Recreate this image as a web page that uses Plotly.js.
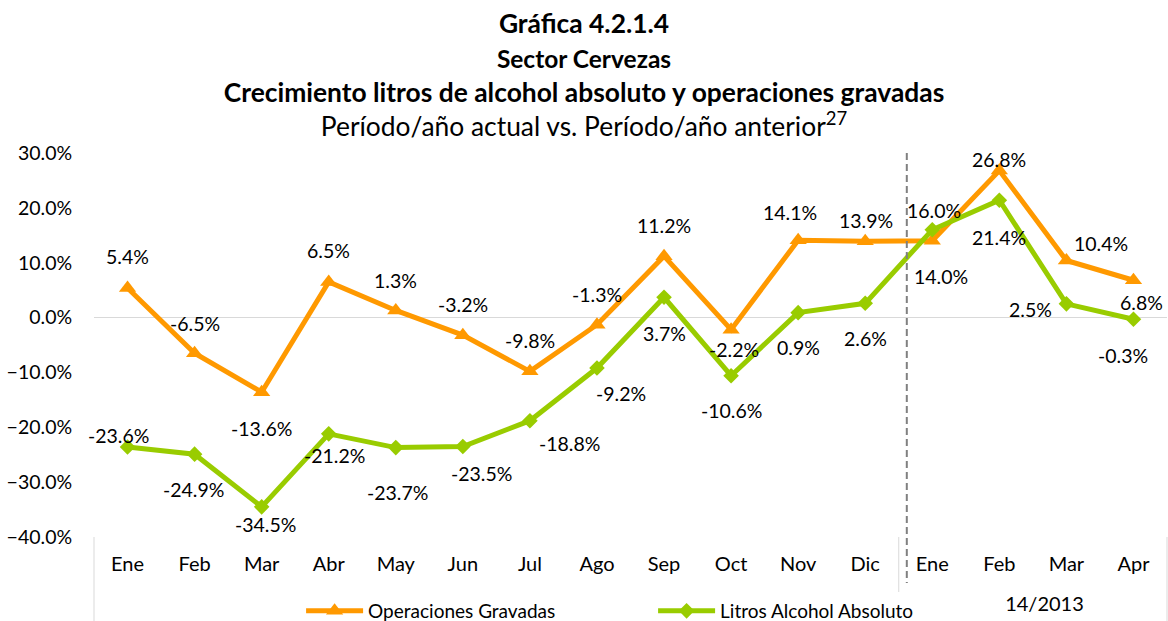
<!DOCTYPE html>
<html>
<head>
<meta charset="utf-8">
<script src="https://cdn.plot.ly/plotly-3.0.1.min.js"></script>
<style>
  html, body { margin: 0; padding: 0; background: #ffffff; }
  #chart { width: 1168px; height: 621px; }
</style>
</head>
<body>
<div id="chart"></div>
<script>
// Periodo comparado (año actual / año anterior) y mes de cada punto
const periods = [
  '2013/2012', '2013/2012', '2013/2012', '2013/2012', '2013/2012', '2013/2012',
  '2013/2012', '2013/2012', '2013/2012', '2013/2012', '2013/2012', '2013/2012',
  '2014/2013', '2014/2013', '2014/2013', '2014/2013'
];
const months = ['Ene', 'Feb', 'Mar', 'Abr', 'May', 'Jun', 'Jul', 'Ago', 'Sep', 'Oct', 'Nov', 'Dic',
                'Ene', 'Feb', 'Mar', 'Apr'];

// Crecimiento (%) vs. mismo periodo del año anterior
const operacionesGravadas = [5.4, -6.5, -13.6, 6.5, 1.3, -3.2, -9.8, -1.3, 11.2, -2.2, 14.1, 13.9, 14.0, 26.8, 10.4, 6.8];
const litrosAlcohol = [-23.6, -24.9, -34.5, -21.2, -23.7, -23.5, -18.8, -9.2, 3.7, -10.6, 0.9, 2.6, 16.0, 21.4, 2.5, -0.3];

const seriesNames = ['Operaciones Gravadas', 'Litros Alcohol Absoluto'];

// Desplazamiento de cada etiqueta respecto a su punto, en píxeles [dx, dy] (dy hacia abajo)
const opLabelOffsets = [
  [0, -31], [0, -30], [0, 36], [0, -31], [0, -30], [0, -31], [0, -31], [0, -30],
  [0, -31], [3, 20], [-8, -28], [1, -21], [9, 36], [0, -11], [35, -17], [8, 22]
];
const litLabelOffsets = [
  [-9, -12], [-1, 35], [4, 18], [6, 22], [2, 45], [19, 27], [40, 23], [24, 25],
  [0, 36], [0, 35], [0, 35], [0, 35], [2, -19], [0, 37], [-36, 6], [-10, 36]
];

const ORANGE = '#FF9900';
const GREEN = '#99CC00';
const FONT = 'Lato, "Open Sans", "DejaVu Sans", sans-serif';

const idx = months.map((m, i) => i);
const N = months.length;

// Grupos de periodos: inicio, fin y centro de cada uno
const groups = [];
periods.forEach((p, i) => {
  const g = groups[groups.length - 1];
  if (g && g.name === p) g.end = i;
  else groups.push({ name: p, start: i, end: i });
});

const traces = [
  {
    x: idx, y: operacionesGravadas, name: seriesNames[0],
    type: 'scatter', mode: 'lines+markers',
    line: { color: ORANGE, width: 5 },
    marker: { symbol: 'triangle-up', size: 15, color: ORANGE },
    hoverinfo: 'skip'
  },
  {
    x: idx, y: litrosAlcohol, name: seriesNames[1],
    type: 'scatter', mode: 'lines+markers',
    line: { color: GREEN, width: 5 },
    marker: { symbol: 'diamond', size: 12, color: GREEN },
    hoverinfo: 'skip'
  },
  // Traza vacía que activa el eje secundario con las etiquetas de periodo
  {
    x: [], y: [], xaxis: 'x2', yaxis: 'y',
    type: 'scatter', mode: 'markers',
    showlegend: false, hoverinfo: 'skip'
  }
];

function labelAnnotations(values, offsets) {
  return values.map((v, i) => ({
    x: i, y: v, xref: 'x', yref: 'y',
    text: v.toFixed(1) + '%',
    showarrow: false,
    xshift: offsets[i][0], yshift: -offsets[i][1],
    font: { family: FONT, size: 19.5, color: '#000000' }
  }));
}

const annotations = labelAnnotations(operacionesGravadas, opLabelOffsets)
  .concat(labelAnnotations(litrosAlcohol, litLabelOffsets));

// Separadores verticales entre grupos de periodos, bajo el eje
const dividerShapes = groups.map(g => g.start).concat([N]).map(b => ({
  type: 'line', xref: 'paper', yref: 'paper',
  x0: b / N, x1: b / N, y0: 0, y1: -0.22,
  line: { color: '#d9d9d9', width: 1 }
}));

// Línea punteada que marca el cambio de periodo
const periodBreak = {
  type: 'line', xref: 'x', yref: 'paper',
  x0: groups[1].start - 0.38, x1: groups[1].start - 0.38, y0: 1, y1: -0.12,
  line: { color: '#808080', width: 2, dash: '7px,4px' }
};

const titleText =
  '<b>Gráfica 4.2.1.4</b><br>' +
  '<span style="font-size:24.5px"><b>Sector Cervezas</b></span><br>' +
  '<b>Crecimiento litros de alcohol absoluto y operaciones gravadas</b><br>' +
  'Período/año actual vs. Período/año anterior<sup>27</sup>';

const layout = {
  width: 1168, height: 621,
  paper_bgcolor: '#ffffff', plot_bgcolor: '#ffffff',
  margin: { l: 94, r: 1, t: 153, b: 84, autoexpand: false },
  font: { family: FONT, color: '#000000', size: 19 },
  title: {
    text: titleText,
    font: { family: FONT, size: 26.4, color: '#000000' },
    x: 0.5, xref: 'container', xanchor: 'center',
    y: 0.9465, yref: 'container', yanchor: 'top'
  },
  xaxis: {
    type: 'linear', range: [-0.5, N - 0.5],
    tickmode: 'array', tickvals: idx, ticktext: months,
    showgrid: false, zeroline: false, showline: false,
    ticks: 'outside', ticklen: 9, tickcolor: 'rgba(0,0,0,0)',
    tickfont: { family: FONT, size: 20, color: '#000000' },
    automargin: false, fixedrange: true
  },
  xaxis2: {
    type: 'linear', range: [-0.5, N - 0.5],
    overlaying: 'x', anchor: 'y', side: 'bottom',
    tickmode: 'array',
    tickvals: groups.map(g => (g.start + g.end) / 2),
    ticktext: groups.map(g => g.name),
    showgrid: false, zeroline: false, showline: false,
    ticks: 'outside', ticklen: 49, tickcolor: 'rgba(0,0,0,0)',
    tickfont: { family: FONT, size: 20, color: '#000000' },
    automargin: false, fixedrange: true
  },
  yaxis: {
    range: [-40, 30], dtick: 10,
    tickformat: '.1f', ticksuffix: '%',
    showgrid: false, showline: false,
    zeroline: true, zerolinecolor: '#d9d9d9', zerolinewidth: 1,
    ticks: 'outside', ticklen: 17, tickcolor: 'rgba(0,0,0,0)',
    tickfont: { family: FONT, size: 19.5, color: '#000000' },
    automargin: false, fixedrange: true
  },
  shapes: dividerShapes.concat([periodBreak]),
  annotations: annotations,
  showlegend: true,
  legend: {
    orientation: 'h',
    xref: 'paper', x: 0.193, xanchor: 'left',
    yref: 'container', y: 0.0467, yanchor: 'top',
    bgcolor: '#ffffff', borderwidth: 0,
    itemwidth: 57,
    entrywidth: 280, entrywidthmode: 'pixels',
    font: { family: FONT, size: 19, color: '#000000' }
  },
  hovermode: false
};

Plotly.newPlot('chart', traces, layout, { displayModeBar: false, staticPlot: true });
</script>
</body>
</html>
